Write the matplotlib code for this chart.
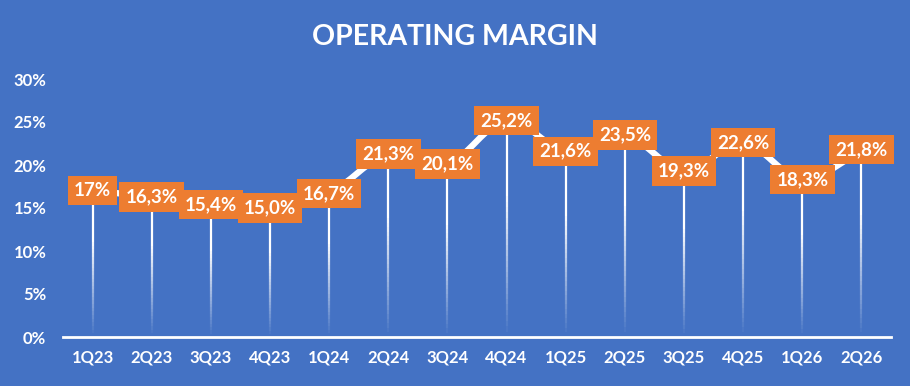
import numpy as np
import matplotlib
matplotlib.use('Agg')
import matplotlib.pyplot as plt
from matplotlib.path import Path
from matplotlib.patches import PathPatch
from matplotlib.collections import LineCollection

quarters = ['1Q23', '2Q23', '3Q23', '4Q23', '1Q24', '2Q24', '3Q24',
            '4Q24', '1Q25', '2Q25', '3Q25', '4Q25', '1Q26', '2Q26']
margin = [17.0, 16.3, 15.4, 15.0, 16.7, 21.3, 20.1,
          25.2, 21.6, 23.5, 19.3, 22.6, 18.3, 21.8]
labels = ['17%', '16,3%', '15,4%', '15,0%', '16,7%', '21,3%', '20,1%',
          '25,2%', '21,6%', '23,5%', '19,3%', '22,6%', '18,3%', '21,8%']

bg = '#4472C4'
orange = '#ED7D31'
font = 'Lato'

fig = plt.figure(figsize=(9.1, 3.86), dpi=100, facecolor=bg)
ax = fig.add_axes([63/910, 49/386, 828/910, 258/386])
ax.set_facecolor(bg)

x = np.arange(len(quarters))
y = np.array(margin)

# smoothed line (catmull-rom style bezier like excel)
verts = [(x[0], y[0])]
codes = [Path.MOVETO]
t = 1/6
for i in range(len(x) - 1):
    p0 = (x[i-1], y[i-1]) if i > 0 else (x[i], y[i])
    p1 = (x[i], y[i])
    p2 = (x[i+1], y[i+1])
    p3 = (x[i+2], y[i+2]) if i + 2 < len(x) else (x[i+1], y[i+1])
    c1 = (p1[0] + (p2[0]-p0[0])*t, p1[1] + (p2[1]-p0[1])*t)
    c2 = (p2[0] - (p3[0]-p1[0])*t, p2[1] - (p3[1]-p1[1])*t)
    verts += [c1, c2, p2]
    codes += [Path.CURVE4]*3
ax.add_patch(PathPatch(Path(verts, codes), fill=False, edgecolor='white', lw=4.5, zorder=3, capstyle='round'))

# drop lines fading toward the axis
n = 40
for xi, yi in zip(x, y):
    ys = np.linspace(0, yi, n + 1)
    segs = [[(xi, ys[k]), (xi, ys[k+1])] for k in range(n)]
    alphas = np.clip(np.linspace(0.0, 1.0, n) * 1.5, 0, 1)
    cols = [(1, 1, 1, a) for a in alphas]
    ax.add_collection(LineCollection(segs, colors=cols, linewidths=1.6, zorder=2))

for xi, yi, lab in zip(x, y, labels):
    ax.text(xi, yi, lab, ha='center', va='center', color='white', fontsize=13.5,
            fontweight='bold', family=font, zorder=5,
            bbox=dict(boxstyle='square,pad=0.33', fc=orange, ec='none'))

ax.set_xlim(-0.5, len(x) - 0.5)
ax.set_ylim(0, 30)
ax.set_yticks(np.arange(0, 31, 5))
ax.set_yticklabels([f'{v}%' for v in range(0, 31, 5)])
ax.set_xticks(x)
ax.set_xticklabels(quarters)
for lbl in ax.get_xticklabels() + ax.get_yticklabels():
    lbl.set_color('white')
    lbl.set_fontsize(12)
    lbl.set_family(font)
    lbl.set_fontweight('bold')
ax.tick_params(length=0)
ax.tick_params(axis='x', pad=9)
ax.tick_params(axis='y', pad=12)
for s in ['top', 'right', 'left']:
    ax.spines[s].set_visible(False)
ax.spines['bottom'].set_color('white')
ax.spines['bottom'].set_linewidth(2)

fig.text(0.5, 0.905, 'OPERATING MARGIN', ha='center', va='center', color='white',
         fontsize=20.5, fontweight='bold', family=font)

fig.savefig('out.png', dpi=100, facecolor=bg)
